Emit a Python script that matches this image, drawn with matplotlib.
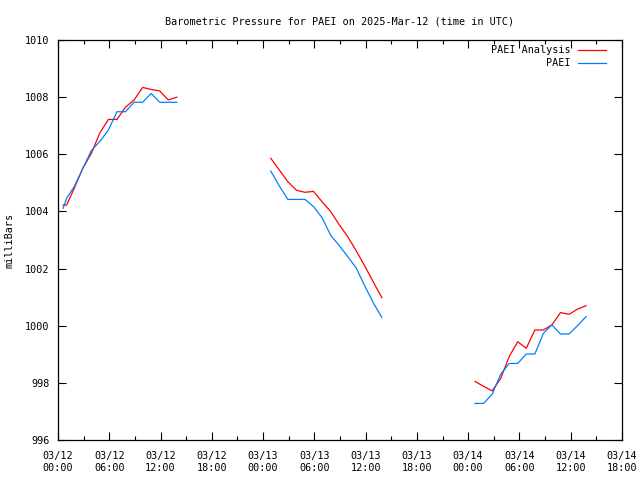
import matplotlib
matplotlib.use('Agg')
import matplotlib.pyplot as plt
from matplotlib.ticker import MultipleLocator

# hours since 2025-03-12 00:00 UTC
analysis_hours = [
    [0.6, 1.0, 1.9, 2.9, 3.9, 4.9, 5.9, 6.9, 7.9, 8.9, 9.9, 10.9, 11.9, 12.9, 13.9],
    [24.9, 25.9, 26.9, 27.9, 28.9, 29.9, 30.9, 31.9, 32.9, 33.9, 34.9, 35.9, 36.9, 37.9],
    [48.8, 49.8, 50.8, 51.8, 52.8, 53.8, 54.8, 55.8, 56.8, 57.8, 58.8, 59.8, 60.8, 61.8],
]
analysis_mb = [
    [1004.22, 1004.22, 1004.81, 1005.51, 1006.03, 1006.75, 1007.22, 1007.22, 1007.65,
     1007.90, 1008.34, 1008.27, 1008.22, 1007.90, 1008.00],
    [1005.86, 1005.45, 1005.04, 1004.74, 1004.67, 1004.70, 1004.34, 1004.00, 1003.54,
     1003.12, 1002.62, 1002.09, 1001.53, 1000.98],
    [998.05, 997.88, 997.72, 998.15, 998.92, 999.44, 999.21, 999.85, 999.85, 1000.03,
     1000.46, 1000.40, 1000.58, 1000.70],
]
obs_hours = analysis_hours
obs_mb = [
    [1004.11, 1004.46, 1004.87, 1005.50, 1006.13, 1006.45, 1006.85, 1007.49, 1007.49,
     1007.82, 1007.82, 1008.13, 1007.82, 1007.82, 1007.82],
    [1005.41, 1004.89, 1004.42, 1004.42, 1004.42, 1004.17, 1003.78, 1003.17, 1002.81,
     1002.42, 1002.02, 1001.39, 1000.80, 1000.29],
    [997.28, 997.28, 997.60, 998.30, 998.68, 998.68, 999.01, 999.01, 999.73, 1000.03,
     999.71, 999.71, 1000.00, 1000.32],
]
tick_hours = list(range(0, 67, 6))
tick_labels = ['03/12\n00:00', '03/12\n06:00', '03/12\n12:00', '03/12\n18:00',
               '03/13\n00:00', '03/13\n06:00', '03/13\n12:00', '03/13\n18:00',
               '03/14\n00:00', '03/14\n06:00', '03/14\n12:00', '03/14\n18:00']

fs = 7.3
plt.rcParams['font.family'] = 'DejaVu Sans Mono'
plt.rcParams['font.size'] = fs

fig = plt.figure(figsize=(6.4, 4.8), dpi=100)
ax = fig.add_axes([58 / 640, 40 / 480, 564 / 640, 400 / 480])

for i, (h, v) in enumerate(zip(analysis_hours, analysis_mb)):
    ax.plot(h, v, color='#ff0000', lw=0.9, label='PAEI Analysis' if i == 0 else None)
for i, (h, v) in enumerate(zip(obs_hours, obs_mb)):
    ax.plot(h, v, color='#0080ff', lw=0.9, label='PAEI' if i == 0 else None)

ax.set_xlim(0, 66)
ax.set_ylim(996, 1010)
ax.set_xticks(tick_hours)
ax.set_xticklabels(tick_labels)
ax.xaxis.set_minor_locator(MultipleLocator(3))
ax.yaxis.set_major_locator(MultipleLocator(2))
ax.tick_params(which='both', direction='in', top=True, right=True, width=0.8)
ax.tick_params(which='major', length=6, pad=8)
ax.tick_params(which='minor', length=3)
ax.tick_params(axis='y', pad=6)
for s in ax.spines.values():
    s.set_linewidth(0.9)

ax.set_ylabel('milliBars', labelpad=8)
ax.set_title('Barometric Pressure for PAEI on 2025-Mar-12 (time in UTC)', fontsize=fs, pad=11)

leg = ax.legend(loc='upper right', bbox_to_anchor=(1 - 9 / 564, 1 + 2 / 400),
                frameon=False, markerfirst=False, fontsize=fs,
                handlelength=2.8, handletextpad=0.7, labelspacing=0.3,
                borderaxespad=0.3)
for t in leg.get_texts():
    t.set_ha('right')
leg._legend_box.align = 'right'

fig.savefig('out.png', dpi=100)
